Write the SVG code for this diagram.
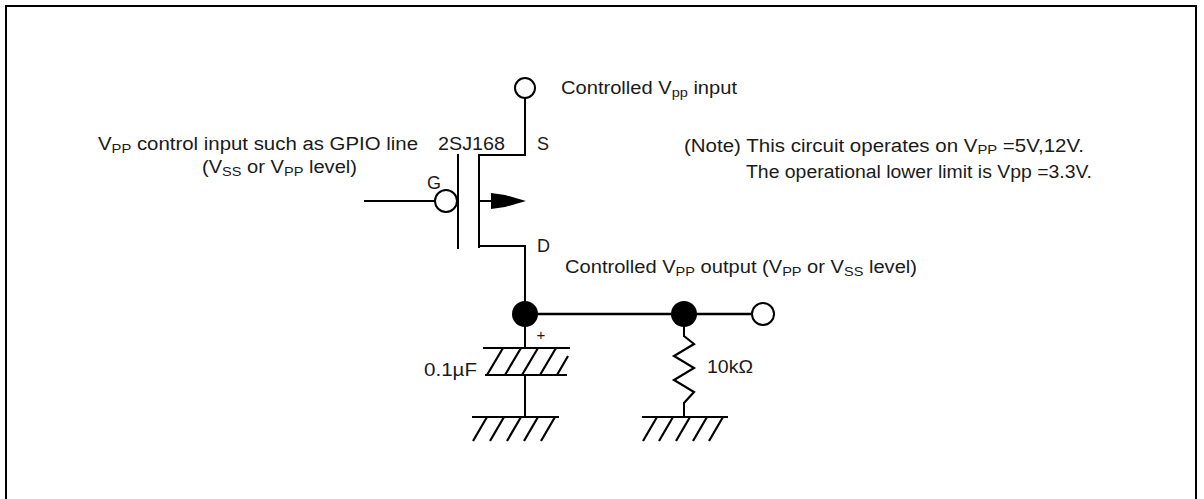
<svg xmlns="http://www.w3.org/2000/svg" width="1204" height="499" viewBox="0 0 1204 499">
<style>
.w{fill:none;stroke:#000;stroke-width:2;stroke-linecap:square}
.t{font-family:"Liberation Sans",Arial,sans-serif;font-size:18px;fill:#1a1a1a}
.s{font-size:13px}
.h{fill:none;stroke:#000;stroke-width:2.2}
</style>
<rect width="1204" height="499" fill="#fff"/>
<path d="M6,499 V6 H1196 V499" fill="none" stroke="#000" stroke-width="2"/>

<g id="connectors">
  <path class="w" d="M525,99 V155 H479"/>
  <path class="w" d="M479,155 V247"/>
  <path class="w" d="M479,246 H525 V314"/>
  <path class="w" d="M365,201 H434"/>
  <path class="w" d="M479,201 H492"/>
  <path d="M525,314 H751" fill="none" stroke="#000" stroke-width="2.6"/>
  <path class="w" d="M525,314 V348"/>
  <path class="w" d="M525,375 V417"/>
  <path class="w" d="M684,314 V336"/>
  <path class="w" d="M684,403 V417"/>
</g>

<g id="source-terminal">
  <circle cx="525" cy="88" r="10" fill="#fff" stroke="#000" stroke-width="2"/>
  <text class="t" x="561" y="94" textLength="176" lengthAdjust="spacingAndGlyphs">Controlled V<tspan class="s" dy="3">pp</tspan><tspan dy="-3"> input</tspan></text>
</g>

<g id="mosfet">
  <path class="w" d="M458,155 V248"/>
  <circle cx="446" cy="201" r="11" fill="#fff" stroke="#000" stroke-width="2"/>
  <polygon points="491,193 505,195 526,201 505,207 491,209" fill="#000"/>
  <text class="t" x="438" y="150" textLength="67" lengthAdjust="spacingAndGlyphs">2SJ168</text>
  <text class="t" x="537" y="150">S</text>
  <text class="t" x="427" y="189">G</text>
  <text class="t" x="537" y="252">D</text>
</g>

<g id="gate-input">
  <text class="t" x="98" y="150" textLength="320" lengthAdjust="spacingAndGlyphs">V<tspan class="s" dy="3">PP</tspan><tspan dy="-3">  control input such as GPIO line</tspan></text>
  <text class="t" x="202" y="173" textLength="155" lengthAdjust="spacingAndGlyphs">(V<tspan class="s" dy="3">SS</tspan><tspan dy="-3"> or V</tspan><tspan class="s" dy="3">PP</tspan><tspan dy="-3">  level)</tspan></text>
</g>

<g id="note">
  <text class="t" x="684" y="152" textLength="400" lengthAdjust="spacingAndGlyphs">(Note) This circuit operates on V<tspan class="s" dy="2">PP</tspan><tspan dy="-2"> =5V,12V.</tspan></text>
  <text class="t" x="746" y="178" textLength="346" lengthAdjust="spacingAndGlyphs">The operational lower limit is Vpp =3.3V.</text>
</g>

<g id="output-label">
  <text class="t" x="565" y="273" textLength="352" lengthAdjust="spacingAndGlyphs">Controlled V<tspan class="s" dy="3">PP</tspan><tspan dy="-3"> output  (V</tspan><tspan class="s" dy="3">PP</tspan><tspan dy="-3"> or V</tspan><tspan class="s" dy="3">SS</tspan><tspan dy="-3"> level)</tspan></text>
</g>

<g id="node-left">
  <circle cx="525" cy="314" r="13" fill="#000"/>
</g>
<g id="node-right">
  <circle cx="684" cy="314" r="13" fill="#000"/>
</g>
<g id="output-terminal">
  <circle cx="763" cy="314" r="11" fill="#fff" stroke="#000" stroke-width="2"/>
</g>

<g id="capacitor">
  <path class="h" d="M483,348 H570 M485,375 H567"/>
  <path class="h" d="M487,375 L503,348 M505,375 L521,348 M522,375 L538,348 M540,375 L556,348 M557,375 L568,356"/>
  <text class="t" x="541" y="340" style="font-size:15px" text-anchor="middle">+</text>
  <text class="t" x="424" y="376" textLength="53" lengthAdjust="spacingAndGlyphs">0.1µF</text>
</g>

<g id="resistor">
  <polyline class="h" points="684,336 694,344 674,356 694,368 674,380 694,392 684,403"/>
  <text class="t" x="707" y="373" textLength="46" lengthAdjust="spacingAndGlyphs">10kΩ</text>
</g>

<g id="ground-left">
  <path class="h" d="M472,417 H559"/>
  <path class="h" d="M473,441 L487,417 M490,441 L504,417 M507,441 L521,417 M524,441 L538,417 M541,441 L555,417"/>
</g>
<g id="ground-right">
  <path class="h" d="M642,417 H728"/>
  <path class="h" d="M643,441 L657,417 M659,441 L673,417 M676,441 L690,417 M693,441 L707,417 M709,441 L723,417"/>
</g>
</svg>
